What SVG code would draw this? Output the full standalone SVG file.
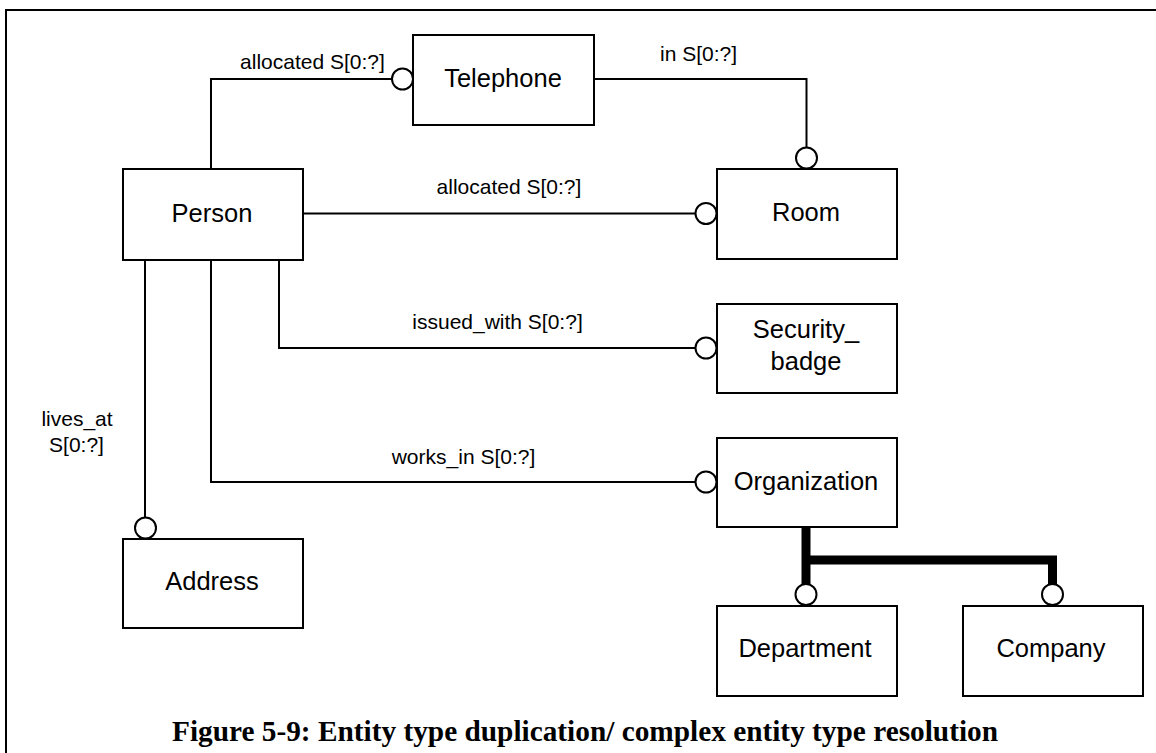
<svg xmlns="http://www.w3.org/2000/svg" width="1156" height="753" viewBox="0 0 1156 753">
  <style>
    .box { fill: #ffffff; stroke: #000000; stroke-width: 2; }
    .name { font-family: "Liberation Sans", Arial, sans-serif; font-size: 25.5px; fill: #000000; text-anchor: middle; }
    .lbl { font-family: "Liberation Sans", Arial, sans-serif; font-size: 21px; fill: #000000; text-anchor: middle; }
    .wire { fill: none; stroke: #000000; stroke-width: 2; }
    .thick { fill: none; stroke: #000000; stroke-width: 9; }
    .end { fill: #ffffff; stroke: #000000; stroke-width: 2; }
    .caption { font-family: "Liberation Serif", "Times New Roman", serif; font-weight: bold; font-size: 29.5px; fill: #000000; }
  </style>

  <rect x="0" y="0" width="1156" height="753" fill="#ffffff"/>
  <!-- figure frame (right and bottom edges run past the page) -->
  <rect x="6" y="10" width="1200" height="800" fill="none" stroke="#000000" stroke-width="2"/>

  <!-- relationships -->
  <g id="connectors">
    <!-- Person allocated Telephone -->
    <path class="wire" d="M211,169 V79 H392"/>
    <circle class="end" cx="402.5" cy="79" r="10.5"/>
    <text class="lbl" x="312.5" y="69">allocated S[0:?]</text>

    <!-- Telephone in Room -->
    <path class="wire" d="M594,79 H806.5 V147"/>
    <circle class="end" cx="806.5" cy="158" r="10.5"/>
    <text class="lbl" x="698.5" y="61">in S[0:?]</text>

    <!-- Person allocated Room -->
    <path class="wire" d="M303,213.5 H695"/>
    <circle class="end" cx="706" cy="213.5" r="10.5"/>
    <text class="lbl" x="509" y="194">allocated S[0:?]</text>

    <!-- Person issued_with Security_badge -->
    <path class="wire" d="M279,260 V348 H695"/>
    <circle class="end" cx="706" cy="348" r="10.5"/>
    <text class="lbl" x="497.5" y="329">issued_with S[0:?]</text>

    <!-- Person works_in Organization -->
    <path class="wire" d="M211,260 V482 H695"/>
    <circle class="end" cx="706" cy="482" r="10.5"/>
    <text class="lbl" x="463.5" y="464">works_in S[0:?]</text>

    <!-- Person lives_at Address -->
    <path class="wire" d="M145,260 V517.5"/>
    <circle class="end" cx="145.5" cy="528" r="10.5"/>
    <text class="lbl" x="77" y="426">lives_at</text>
    <text class="lbl" x="76.5" y="452">S[0:?]</text>

    <!-- Organization subtypes (ONEOF) -->
    <path class="thick" d="M806,527 V584"/>
    <path class="thick" d="M806,560 H1052.5 V584"/>
    <circle class="end" cx="806" cy="594.5" r="10.5"/>
    <circle class="end" cx="1052.5" cy="594.5" r="10.5"/>
  </g>

  <!-- entities -->
  <g id="telephone">
    <rect class="box" x="413" y="35" width="181" height="90"/>
    <text class="name" x="503" y="87">Telephone</text>
  </g>
  <g id="person">
    <rect class="box" x="123" y="169" width="180" height="91"/>
    <text class="name" x="212" y="222">Person</text>
  </g>
  <g id="room">
    <rect class="box" x="717" y="169" width="180" height="90"/>
    <text class="name" x="806" y="221">Room</text>
  </g>
  <g id="security_badge">
    <rect class="box" x="717" y="304" width="180" height="89"/>
    <text class="name" x="806" y="338">Security_</text>
    <text class="name" x="806" y="370">badge</text>
  </g>
  <g id="organization">
    <rect class="box" x="717" y="438" width="180" height="89"/>
    <text class="name" x="806" y="490">Organization</text>
  </g>
  <g id="address">
    <rect class="box" x="123" y="539" width="180" height="89"/>
    <text class="name" x="212" y="590">Address</text>
  </g>
  <g id="department">
    <rect class="box" x="717" y="606" width="180" height="90"/>
    <text class="name" x="805" y="657">Department</text>
  </g>
  <g id="company">
    <rect class="box" x="963" y="606" width="180" height="90"/>
    <text class="name" x="1051" y="657">Company</text>
  </g>

  <text class="caption" x="172" y="741" textLength="826" lengthAdjust="spacingAndGlyphs">Figure 5-9: Entity type duplication/ complex entity type resolution</text>
</svg>
